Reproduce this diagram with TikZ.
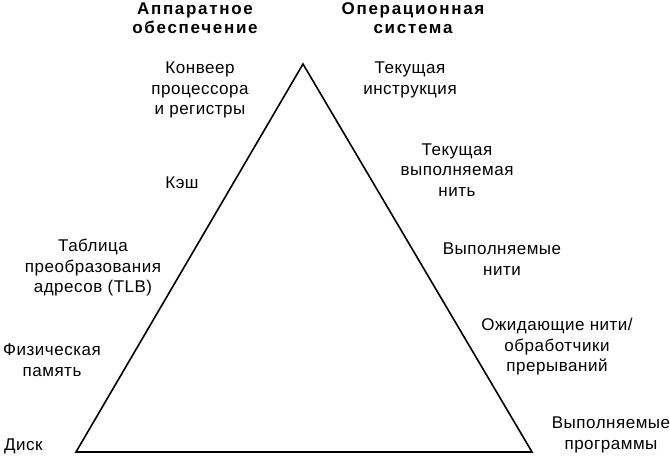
\documentclass[tikz,border=0pt]{standalone}
\usepackage{fontspec}
\setmainfont{Liberation Sans}
\newfontfamily\lblfont[LetterSpace=3]{Liberation Sans}
\newfontfamily\headfont[LetterSpace=10]{Liberation Sans}
\usepackage{tikz}

\begin{document}
\begin{tikzpicture}[x=1pt,y=-1pt,
    lbl/.style={align=center,font=\lblfont\fontsize{17}{20.5}\selectfont,inner sep=0pt},
    head/.style={align=center,inner sep=0pt,font=\headfont\bfseries\fontsize{17}{19.5}\selectfont}]
    \useasboundingbox (0,0) rectangle (670,457);
    \coordinate (top) at (303,64);
    \coordinate (left) at (76,452);
    \coordinate (right) at (532,452);
    \draw[line width=1.6pt,line join=miter](top)--(right)--(left)--cycle;
    \node[head] (hw) at (195,18){Аппаратное\\обеспечение};
    \node[head] (os) at (413,18){Операционная\\система};
    \node[lbl] (pipe) at (200,90){Конвеер\\процессора\\и регистры};
    \node[lbl] (cache) at (182,183){Кэш};
    \node[lbl] (tlb) at (93,268){Таблица\\преобразования\\адресов (TLB)};
    \node[lbl] (mem) at (52,360){Физическая\\память};
    \node[lbl,anchor=west] (disk) at (4,446){Диск};
    \node[lbl] (instr) at (410,80){Текущая\\инструкция};
    \node[lbl] (cur) at (457,170){Текущая\\выполняемая\\нить};
    \node[lbl] (ready) at (502,259){Выполняемые\\нити};
    \node[lbl] (wait) at (557,347){Ожидающие нити/\\обработчики\\прерываний};
    \node[lbl] (prog) at (611,435){Выполняемые\\программы};
\end{tikzpicture}
\end{document}
